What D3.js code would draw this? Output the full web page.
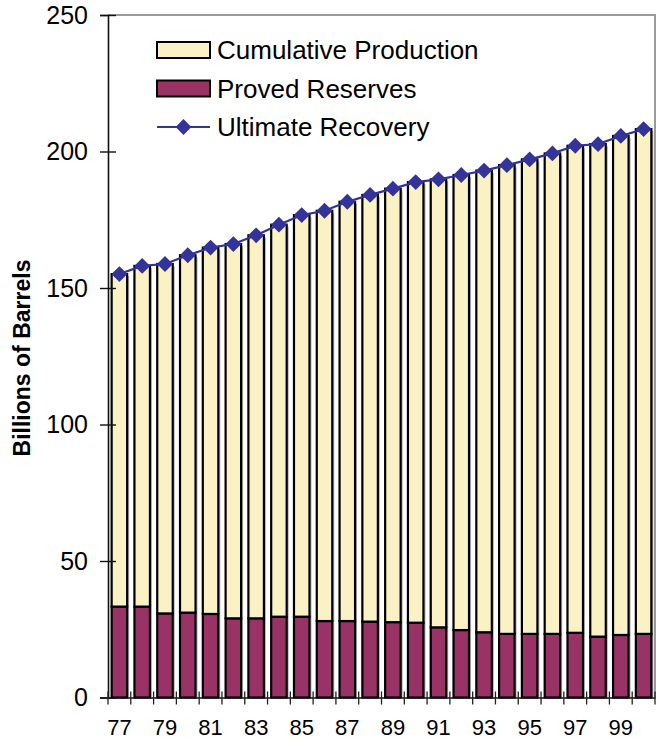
<!DOCTYPE html>
<html>
<head>
<meta charset="utf-8">
<script src="https://cdn.jsdelivr.net/npm/d3@7/dist/d3.min.js"></script>
<style>
  html, body { margin: 0; padding: 0; background: #fff; }
  svg { display: block; font-family: "Liberation Sans", Arial, sans-serif; }
</style>
</head>
<body>
<svg id="chart" width="665" height="742"></svg>
<script>
// Years 1977–2000
const years = ["77","78","79","80","81","82","83","84","85","86","87","88",
               "89","90","91","92","93","94","95","96","97","98","99","00"];
// Ultimate recovery (billions of barrels)
const ultimateRecovery = [155.1,158.1,158.8,162.0,164.8,166.1,169.3,173.2,176.7,178.3,181.6,184.1,
                          186.4,188.8,189.8,191.4,193.0,195.0,197.1,199.3,202.1,202.7,205.7,208.2];
// Proved reserves (billions of barrels)
const provedReserves = [33.3,33.3,30.8,31.1,30.6,29.0,29.0,29.6,29.6,28.0,28.0,27.8,
                        27.6,27.4,25.7,24.7,23.9,23.3,23.3,23.3,23.7,22.3,22.9,23.3];
// Cumulative production = ultimate recovery minus proved reserves
const cumulativeProduction = ultimateRecovery.map((u, i) => +(u - provedReserves[i]).toFixed(1));
const yTicks = [0, 50, 100, 150, 200, 250];
const xLabelYears = ["77","79","81","83","85","87","89","91","93","95","97","99"];

const colors = { production: "#FAF2C4", reserves: "#993366", line: "#333399" };

const svg = d3.select("#chart");
const plotLeft = 108, plotRight = 655, plotTop = 15, plotBottom = 697.5;

const x = d3.scaleBand().domain(years).range([plotLeft, plotRight]).paddingInner(0.32).paddingOuter(0.16);
const xPos = d3.scaleBand().domain(years).range([plotLeft, plotRight]).padding(0);
const y = d3.scaleLinear().domain([0, 250]).range([plotBottom, plotTop]);

// plot frame (top and right)
svg.append("path")
  .attr("d", `M${plotLeft},${plotTop}H${plotRight}V${plotBottom}`)
  .attr("fill", "none").attr("stroke", "#9a9a9a").attr("stroke-width", 2);

// bars: reserves at the bottom, cumulative production stacked above
const g = svg.append("g");
years.forEach((yr, i) => {
  const bx = x(yr), bw = x.bandwidth();
  const total = provedReserves[i] + cumulativeProduction[i];
  // faint shadow
  g.append("rect")
    .attr("x", bx + 2).attr("y", y(total) + 2)
    .attr("width", bw).attr("height", y(0) - y(total) - 2)
    .attr("fill", "#b0b0b0");
  g.append("rect")
    .attr("x", bx).attr("y", y(provedReserves[i]))
    .attr("width", bw).attr("height", y(0) - y(provedReserves[i]))
    .attr("fill", colors.reserves).attr("stroke", "#000").attr("stroke-width", 2.2);
  g.append("rect")
    .attr("x", bx).attr("y", y(total))
    .attr("width", bw).attr("height", y(provedReserves[i]) - y(total))
    .attr("fill", colors.production).attr("stroke", "#000").attr("stroke-width", 2.2);
});

// ultimate recovery line with diamond markers
const cx = d => x(d) + x.bandwidth() / 2;
const lineData = years.map((yr, i) => [cx(yr), y(ultimateRecovery[i])]);
svg.append("path")
  .attr("d", d3.line()(lineData))
  .attr("fill", "none").attr("stroke", colors.line).attr("stroke-width", 2.2);
const diamond = d3.symbol().type(d3.symbolDiamond2).size(160);
svg.selectAll(".mk").data(lineData).enter().append("path")
  .attr("transform", d => `translate(${d[0]},${d[1]})`)
  .attr("d", diamond).attr("fill", colors.line);

// y axis
const yAxis = svg.append("g").attr("transform", `translate(${plotLeft},0)`)
  .call(d3.axisLeft(y).tickValues(yTicks).tickSize(8).tickPadding(14));
yAxis.select(".domain").attr("stroke", "#111").attr("stroke-width", 1.6);
yAxis.selectAll(".tick line").attr("x2", 8).attr("x1", -8).attr("stroke", "#111").attr("stroke-width", 1.4);
yAxis.selectAll(".tick text").attr("x", -20).attr("font-size", 25).attr("fill", "#000")
  .attr("font-family", "Liberation Sans, Arial, sans-serif");

// x axis: ticks at category boundaries, labels at odd years
const xAxis = svg.append("g").attr("transform", `translate(0,${plotBottom})`)
  .call(d3.axisBottom(xPos).tickValues(xLabelYears).tickSize(0).tickPadding(22));
xAxis.select(".domain").attr("stroke", "#111").attr("stroke-width", 1.6);
xAxis.selectAll(".tick text").attr("font-size", 22).attr("fill", "#000")
  .attr("font-family", "Liberation Sans, Arial, sans-serif");
const bounds = years.map(yr => xPos(yr)).concat([plotRight]);
xAxis.selectAll(".bt").data(bounds).enter().append("line")
  .attr("x1", d => d).attr("x2", d => d).attr("y1", -6).attr("y2", 7)
  .attr("stroke", "#222").attr("stroke-width", 1.3);

// y axis title
svg.append("text")
  .attr("transform", "translate(30,358) rotate(-90)")
  .attr("text-anchor", "middle")
  .attr("font-size", 23).attr("font-weight", "bold")
  .text("Billions of Barrels");

// legend
const legend = svg.append("g").attr("font-size", 26);
const items = [
  { label: "Cumulative Production", type: "box", color: colors.production, cy: 50 },
  { label: "Proved Reserves", type: "box", color: colors.reserves, cy: 88.5 },
  { label: "Ultimate Recovery", type: "line", color: colors.line, cy: 127 }
];
items.forEach(it => {
  if (it.type === "box") {
    legend.append("rect").attr("x", 157).attr("y", it.cy - 8).attr("width", 53).attr("height", 16)
      .attr("fill", it.color).attr("stroke", "#000").attr("stroke-width", 2);
  } else {
    legend.append("line").attr("x1", 157).attr("x2", 210).attr("y1", it.cy).attr("y2", it.cy)
      .attr("stroke", it.color).attr("stroke-width", 2.2);
    legend.append("path").attr("transform", `translate(183.5,${it.cy})`)
      .attr("d", diamond).attr("fill", it.color);
  }
  legend.append("text").attr("x", 217).attr("y", it.cy).attr("dy", "0.36em").text(it.label);
});
</script>
</body>
</html>
